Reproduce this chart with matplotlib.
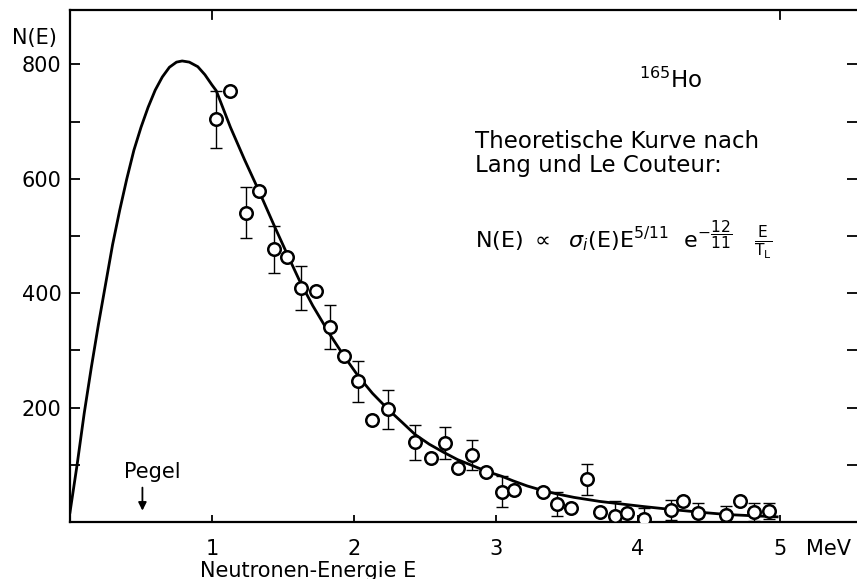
import matplotlib

matplotlib.use("Agg")
import matplotlib.pyplot as plt
import numpy as np

# theoretical curve (Lang / Le Couteur)
curve_e = [0.0, 0.05, 0.10, 0.15, 0.20, 0.25, 0.30, 0.35, 0.40, 0.45,
           0.50, 0.55, 0.60, 0.65, 0.70, 0.75, 0.79, 0.84, 0.90, 0.95,
           1.00, 1.03, 1.13, 1.23, 1.33, 1.44, 1.53, 1.62, 1.71, 1.83,
           1.93, 2.03, 2.13, 2.24, 2.34, 2.43, 2.53, 2.63, 2.73, 2.84,
           2.94, 3.04, 3.12, 3.22, 3.33, 3.43, 3.55, 3.73, 3.90, 4.04,
           4.23, 4.44, 4.63, 4.80, 4.98]
curve_n = [17, 100, 190, 270, 345, 415, 485, 545, 600, 650,
           690, 725, 755, 778, 795, 804, 806, 804, 796, 782,
           764, 754, 690, 633, 579, 517, 468, 420, 378, 328,
           290, 255, 225, 197, 174, 153, 136, 122, 109, 98,
           88, 80, 72, 63, 55, 49, 43, 36, 31, 27,
           22, 17, 13, 11, 9]

# measured points (165Ho); err = 0 means no error bar drawn
pts_e = [1.03, 1.13, 1.24, 1.33, 1.44, 1.53, 1.63, 1.73, 1.83, 1.93,
         2.03, 2.24, 2.13, 2.43, 2.54, 2.64, 2.73, 2.83, 2.93, 3.04,
         3.13, 3.33, 3.43, 3.53, 3.64, 3.73, 3.84, 3.92, 4.04, 4.23,
         4.32, 4.42, 4.62, 4.72, 4.82, 4.92]
pts_n = [704, 753, 541, 579, 477, 464, 409, 403, 341, 291,
         246, 197, 178, 139, 112, 138, 95, 117, 87, 53,
         56, 53, 31, 24, 75, 18, 10, 16, 5, 21,
         37, 16, 13, 36, 17, 20]
pts_err = [50, 0, 44, 0, 41, 0, 38, 0, 39, 0,
           36, 34, 0, 31, 0, 28, 0, 26, 0, 27,
           0, 0, 21, 0, 27, 0, 27, 0, 19, 17,
           0, 17, 15, 0, 16, 14]

xticks = [1, 2, 3, 4, 5]
xticklabels = ["1", "2", "3", "4", "5"]
yticks = [200, 400, 600, 800]

FS = 15
fig = plt.figure(figsize=(8.57, 5.79), dpi=100)
ax = fig.add_axes([70 / 857, 57 / 579, 787 / 857, 512 / 579])

ax.plot(curve_e, curve_n, color="black", linewidth=2.0, zorder=2,
        solid_joinstyle="round")

e = np.array(pts_e)
n = np.array(pts_n)
err = np.array(pts_err, dtype=float)
has_err = err > 0
ax.errorbar(e[has_err], n[has_err], yerr=err[has_err], fmt="none",
            ecolor="black", elinewidth=1.0, capsize=4, capthick=1.0, zorder=3)
ax.plot(e, n, "o", markersize=9, markerfacecolor="white",
        markeredgecolor="black", markeredgewidth=1.8, zorder=4)

ax.set_xlim(0, 787 / 142)
ax.set_ylim(0, 512 / 0.572)

ax.set_xticks(xticks)
ax.set_xticklabels(xticklabels, fontsize=FS)
ax.set_yticks(yticks)
ax.set_yticklabels([str(v) for v in yticks], fontsize=FS)
ax.set_yticks([100, 300, 500, 700], minor=True)
ax.tick_params(axis="y", which="both", direction="in", length=7, width=1.3,
               left=True, right=True, pad=6)
ax.tick_params(axis="x", direction="in", length=5, width=1.3, pad=12,
               bottom=True, top=False)

for side in ("left", "bottom", "top"):
    ax.spines[side].set_linewidth(1.6)
ax.spines["right"].set_visible(False)

# the two short ticks on the top frame
for xt in (1, 5):
    ax.plot([xt, xt], [895, 880], color="black", linewidth=1.3, clip_on=False)

ax.text(5.18, -0.053, "MeV", transform=ax.get_xaxis_transform(),
        fontsize=FS, ha="left", va="center")
fig.text(34 / 857, 1 - 38 / 579, "N(E)", fontsize=FS, ha="center", va="center")
ax.text(1.68, -0.095, "Neutronen-Energie E", transform=ax.get_xaxis_transform(),
        fontsize=FS, ha="center", va="center")

# Pegel marker
ax.text(0.58, 87, "Pegel", fontsize=FS, ha="center", va="center")
ax.annotate("", xy=(0.51, 15), xytext=(0.51, 65),
            arrowprops=dict(arrowstyle="-|>", color="black", lw=1.3,
                            mutation_scale=12))

ax.text(4.23, 772, r"$^{165}$Ho", fontsize=16.5, ha="center", va="center")
ax.text(2.85, 644, "Theoretische Kurve nach\nLang und Le Couteur:",
        fontsize=16.5, ha="left", va="center", linespacing=1.05)
ax.text(2.85, 493,
        r"N(E) $\propto$  $\sigma_i$(E)E$^{5/11}$  e$^{-\dfrac{12}{11}}$"
        r"$\ \ \ \frac{\mathrm{E}}{\mathrm{T_L}}$",
        fontsize=16, ha="left", va="center")

fig.savefig("out.png", dpi=100)
plt.close(fig)
